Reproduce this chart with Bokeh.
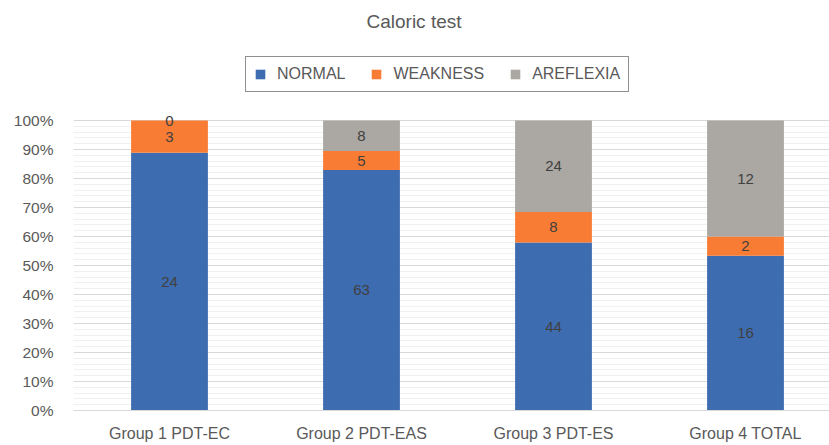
from bokeh.plotting import figure
from bokeh.models import (ColumnDataSource, Range1d, FixedTicker, NumeralTickFormatter,
                          Legend, LegendItem, Title)
from bokeh.core.properties import value
from bokeh.embed import file_html
from bokeh.resources import INLINE

groups = ["Group 1 PDT-EC", "Group 2 PDT-EAS", "Group 3 PDT-ES", "Group 4 TOTAL"]
normal = [24, 63, 44, 16]
weakness = [3, 5, 8, 2]
areflexia = [0, 8, 24, 12]
series_names = ["NORMAL", "WEAKNESS", "AREFLEXIA"]
colors = ["#3E6CB1", "#F97C35", "#ABA7A2"]

FONT = "Liberation Sans"
GREY = "#595959"

xs = [i + 0.5 for i in range(len(groups))]
totals = [a + b + c for a, b, c in zip(normal, weakness, areflexia)]
series = [normal, weakness, areflexia]
pct = [[v / t for v, t in zip(s, totals)] for s in series]

data = {"x": xs}
for name, p_ in zip(series_names, pct):
    data[name] = p_
src = ColumnDataSource(data)

# frame spans from y=40 to y=410 px; 100% sits at y=120 px
p = figure(width=829, height=445, output_backend="svg", toolbar_location=None,
           x_range=Range1d(0, 3.9375), y_range=Range1d(0, 1 + 80 / 290),
           min_border_left=73, min_border_right=0, min_border_bottom=35,
           min_border_top=40)
p.outline_line_color = None
p.background_fill_color = "white"

renderers = p.vbar_stack(series_names, x="x", width=0.4, source=src,
                         color=colors, line_color=None)

# segment labels
lx, ly, lt = [], [], []
for i, x in enumerate(xs):
    base = 0.0
    for s, p_ in zip(series, pct):
        lx.append(x)
        ly.append(base + p_[i] / 2)
        lt.append(str(s[i]))
        base += p_[i]
p.text(x=lx, y=ly, text=lt, text_align="center", text_baseline="middle",
       text_font=value(FONT), text_font_size="15px", text_color="#404040")

# axes
p.yaxis.ticker = FixedTicker(ticks=[i / 10 for i in range(11)],
                             minor_ticks=[i / 50 for i in range(51)])
p.yaxis.formatter = NumeralTickFormatter(format="0%")
p.yaxis.axis_line_color = None
p.yaxis.major_tick_line_color = None
p.yaxis.minor_tick_line_color = None
p.yaxis.major_tick_out = 0
p.yaxis.minor_tick_out = 0
p.yaxis.major_label_text_font = FONT
p.yaxis.major_label_text_font_size = "15.5px"
p.yaxis.major_label_text_color = GREY
p.yaxis.major_label_standoff = 20

p.xaxis.ticker = FixedTicker(ticks=xs)
p.xaxis.major_label_overrides = {x: g for x, g in zip(xs, groups)}
p.xaxis.axis_line_color = "#D9D9D9"
p.xaxis.major_tick_line_color = None
p.xaxis.minor_tick_line_color = None
p.xaxis.major_tick_out = 0
p.xaxis.minor_tick_out = 0
p.xaxis.major_label_text_font = FONT
p.xaxis.major_label_text_font_size = "16px"
p.xaxis.major_label_text_color = GREY
p.xaxis.major_label_standoff = 14

p.xgrid.grid_line_color = None
p.ygrid.grid_line_color = "#D9D9D9"
p.ygrid.minor_grid_line_color = "#F0F0F0"

legend = Legend(items=[LegendItem(label=n, renderers=[r]) for n, r in zip(series_names, renderers)],
                orientation="horizontal", location=(172, 318),
                glyph_width=12, glyph_height=12, label_standoff=11, spacing=25,
                padding=8, margin=0,
                label_text_font=FONT, label_text_font_size="16px", label_text_color=GREY,
                border_line_color="#222222", border_line_width=1.2,
                label_height=16)
p.add_layout(legend, "center")

title = Title(text="Caloric test", align="left", offset=293, standoff=17,
              text_font=FONT, text_font_size="19px", text_font_style="normal",
              text_color=GREY)
p.add_layout(title, "above")

open("out.html", "w").write(file_html(p, INLINE))
